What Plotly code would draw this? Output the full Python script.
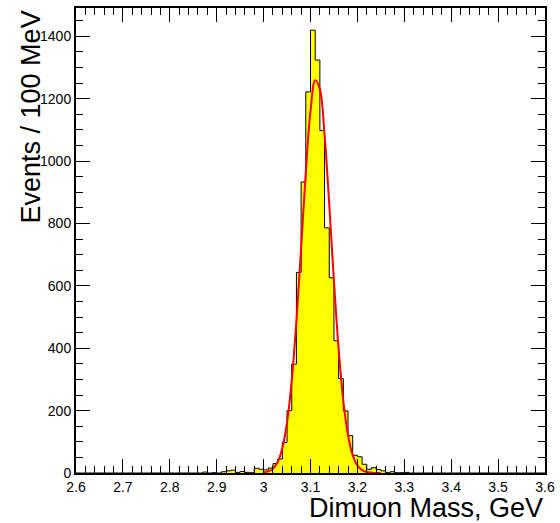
import numpy as np
import plotly.graph_objects as go

# ---- data ----
x_min = 2.6
x_max = 3.6
bin_width = 0.01
# 100 bins from 2.60 to 3.60
counts = [
    0, 0, 0, 0, 0, 0, 0, 0, 0, 0,          # 2.60-2.69
    0, 0, 0, 0, 0, 0, 0, 0, 0, 0,          # 2.70-2.79
    0, 0, 0, 0, 0, 0, 0, 3, 0, 1,          # 2.80-2.89
    0, 4, 7, 9, 2, 5, 2, 1, 15, 12,        # 2.90-2.99
    10, 16, 30, 45, 98, 200, 349, 643, 933, 1222,   # 3.00-3.09
    1420, 1324, 1098, 786, 626, 424, 303, 199, 120, 57,  # 3.10-3.19
    52, 28, 12, 17, 11, 7, 2, 4, 1, 1,     # 3.20-3.29
    2, 0, 0, 0, 0, 0, 0, 0, 0, 0,          # 3.30-3.39
    0, 0, 0, 0, 0, 0, 0, 0, 0, 0,          # 3.40-3.49
    0, 0, 0, 0, 0, 0, 0, 0, 0, 0,          # 3.50-3.59
]

# fitted curve
fit_x = [3.00, 3.01, 3.02, 3.03, 3.04, 3.05, 3.06, 3.07, 3.08, 3.09,
         3.10, 3.11, 3.12, 3.13, 3.14, 3.15, 3.16, 3.17, 3.18, 3.19,
         3.20, 3.21, 3.22, 3.23, 3.24, 3.25]
fit_y = [2, 5, 14, 35, 80, 162, 297, 487, 722, 965,
         1161, 1259, 1230, 1084, 860, 615, 397, 231, 121, 57,
         24, 9, 3, 1, 0, 0]

x_tickvals = [2.6, 2.7, 2.8, 2.9, 3.0, 3.1, 3.2, 3.3, 3.4, 3.5, 3.6]
x_ticktext = ["2.6", "2.7", "2.8", "2.9", "3", "3.1", "3.2", "3.3", "3.4", "3.5", "3.6"]
y_tickvals = [0, 200, 400, 600, 800, 1000, 1200, 1400]
y_ticktext = ["0", "200", "400", "600", "800", "1000", "1200", "1400"]

x_title = "Dimuon Mass, GeV"
y_title = "Events / 100 MeV"

# ---- build ----
n_bins = len(counts)
edges = np.round(x_min + bin_width * np.arange(n_bins + 1), 4)
step_y = list(counts) + [counts[-1]]

FONT = "Liberation Sans, Arial, Helvetica, sans-serif"

fig = go.Figure()
fig.add_trace(go.Scatter(
    x=edges, y=step_y, mode="lines", line_shape="hv",
    line=dict(color="black", width=1),
    fill="tozeroy", fillcolor="#ffff00",
    hoverinfo="skip", showlegend=False,
))
fig.add_trace(go.Scatter(
    x=fit_x, y=fit_y, mode="lines", line_shape="spline",
    line=dict(color="#ff0000", width=2),
    showlegend=False,
))

axis_common = dict(
    showline=True, linecolor="black", linewidth=2, mirror="ticks",
    ticks="inside", ticklen=14, tickwidth=1, tickcolor="black",
    showgrid=False, zeroline=False,
    tickfont=dict(family=FONT, size=14, color="black"),
)

fig.update_xaxes(
    range=[x_min, x_max], tickvals=x_tickvals, ticktext=x_ticktext,
    minor=dict(dtick=0.02, tick0=x_min, ticks="inside", ticklen=7, tickwidth=1, tickcolor="black"),
    **axis_common,
)
fig.update_yaxes(
    range=[0, 1491], tickvals=y_tickvals, ticktext=y_ticktext,
    minor=dict(dtick=50, tick0=0, ticks="inside", ticklen=7, tickwidth=1, tickcolor="black"),
    **axis_common,
)

fig.add_annotation(
    text=x_title, xref="paper", yref="paper", x=1.0, y=0, xanchor="right",
    yanchor="top", yshift=-18, showarrow=False,
    font=dict(family=FONT, size=27, color="black"),
)
fig.add_annotation(
    text=y_title, xref="paper", yref="paper", x=-0.096, y=1.0, xanchor="center",
    yanchor="top", textangle=-90, showarrow=False,
    font=dict(family=FONT, size=27, color="black"),
)

fig.update_layout(
    width=560, height=523,
    margin=dict(l=76, r=15, t=8, b=50, autoexpand=False),
    plot_bgcolor="white", paper_bgcolor="white",
    showlegend=False,
)

fig.write_html("out.html", config={"displayModeBar": False},
               post_script="document.body.style.margin='0';")
